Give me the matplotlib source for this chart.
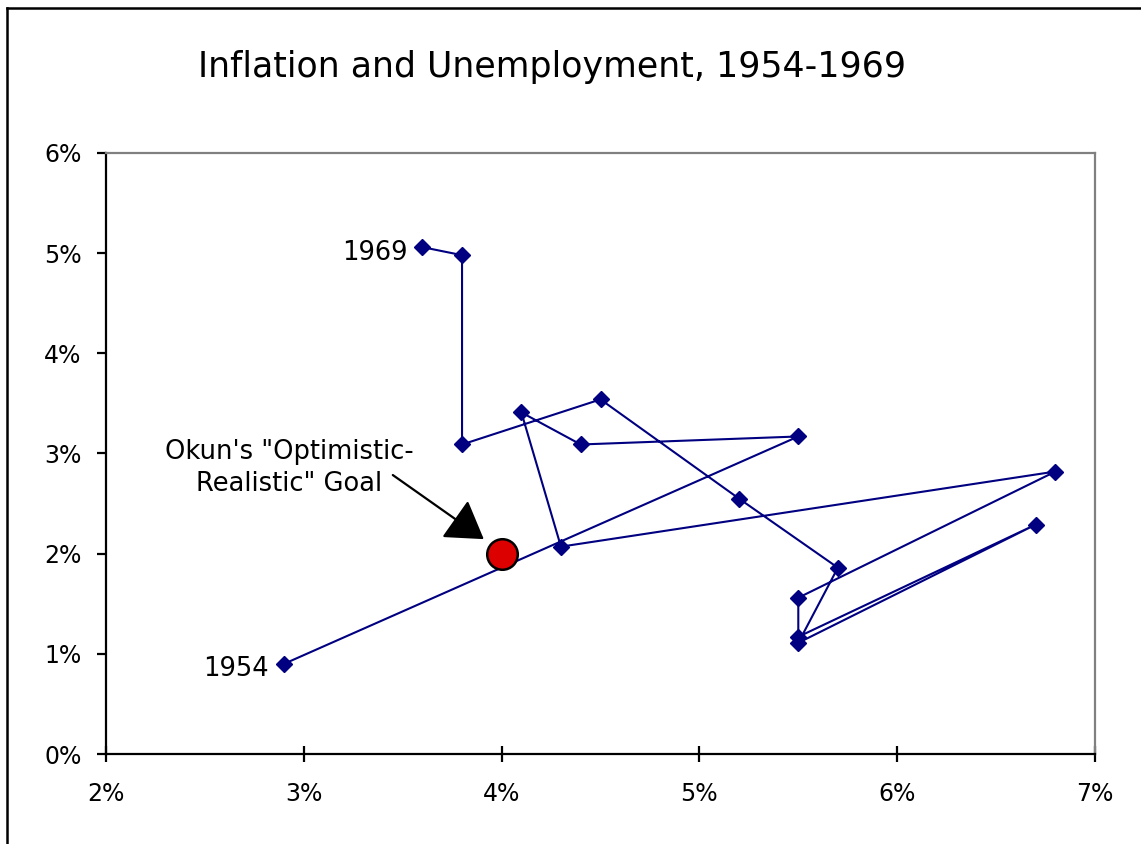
import matplotlib
matplotlib.use("Agg")
import matplotlib.pyplot as plt
from matplotlib.lines import Line2D
from matplotlib.ticker import FuncFormatter

# Data (1954-1969): unemployment (x) and inflation (y), in percent
years = list(range(1954, 1970))
unemployment = [2.9, 5.5, 4.4, 4.1, 4.3, 6.8, 5.5, 5.5, 6.7, 5.5, 5.7, 5.2, 4.5, 3.8, 3.8, 3.6]
inflation = [0.9, 3.17, 3.09, 3.41, 2.07, 2.82, 1.56, 1.17, 2.29, 1.11, 1.86, 2.55, 3.54, 3.09, 4.98, 5.06]
goal_unemployment = 4.0
goal_inflation = 2.0
x_ticks = [2, 3, 4, 5, 6, 7]
y_ticks = [0, 1, 2, 3, 4, 5, 6]

plt.rcParams['font.family'] = ['DejaVu Sans']

W, H = 1141, 844
fig = plt.figure(figsize=(W / 100, H / 100), dpi=100)
fig.patch.set_facecolor('white')

L, R, T, B = 106, 1095, 153, 754
ax = fig.add_axes([L / W, 1 - B / H, (R - L) / W, (B - T) / H])

navy = '#000080'
ax.plot(unemployment, inflation, color=navy, lw=1.5, marker='D', markersize=8.5,
        markerfacecolor=navy, markeredgecolor=navy, zorder=3)

ax.plot([goal_unemployment], [goal_inflation], marker='o', markersize=22,
        markerfacecolor='#dd0000', markeredgecolor='black', markeredgewidth=1.8,
        linestyle='none', zorder=4)

ax.set_xlim(2, 7)
ax.set_ylim(0, 6)
ax.set_xticks(x_ticks)
ax.set_yticks(y_ticks)
fmt = FuncFormatter(lambda v, p: f"{v:.0f}%")
ax.xaxis.set_major_formatter(fmt)
ax.yaxis.set_major_formatter(fmt)
ax.tick_params(axis='x', direction='inout', length=11, width=1.6, labelsize=17, pad=15, colors='black')
ax.tick_params(axis='y', direction='out', length=6.5, width=1.6, labelsize=17, pad=11, colors='black')

for s in ['left', 'bottom']:
    ax.spines[s].set_color('black')
    ax.spines[s].set_linewidth(1.6)
for s in ['top', 'right']:
    ax.spines[s].set_color('#808080')
    ax.spines[s].set_linewidth(1.6)

# year labels
ax.annotate(str(years[0]), (unemployment[0], inflation[0]), xytext=(-11, -4),
            textcoords='offset points', ha='right', va='center', fontsize=18.5)
ax.annotate(str(years[-1]), (unemployment[-1], inflation[-1]), xytext=(-11, -4),
            textcoords='offset points', ha='right', va='center', fontsize=18.5)

# Okun annotation
fig.text(289 / W, 1 - 468 / H, "Okun's \"Optimistic-\nRealistic\" Goal",
         ha='center', va='center', fontsize=18.5, linespacing=1.3)
ax.annotate("", xy=(3.91, 2.145), xytext=(3.45, 2.785),
            arrowprops=dict(arrowstyle='-|>,head_length=2.3,head_width=1.45',
                            color='black', lw=1.6, mutation_scale=10,
                            shrinkA=0, shrinkB=0))

fig.text(552 / W, 1 - 67 / H, "Inflation and Unemployment, 1954-1969",
         ha='center', va='center', fontsize=25)

# outer frame (left and top edges)
fig.add_artist(Line2D([6.5 / W, 6.5 / W], [0, 1 - 8 / H], transform=fig.transFigure,
                      color='black', lw=1.8))
fig.add_artist(Line2D([6.5 / W, 1], [1 - 8 / H, 1 - 8 / H], transform=fig.transFigure,
                      color='black', lw=1.8))

fig.savefig('out.png', dpi=100)
